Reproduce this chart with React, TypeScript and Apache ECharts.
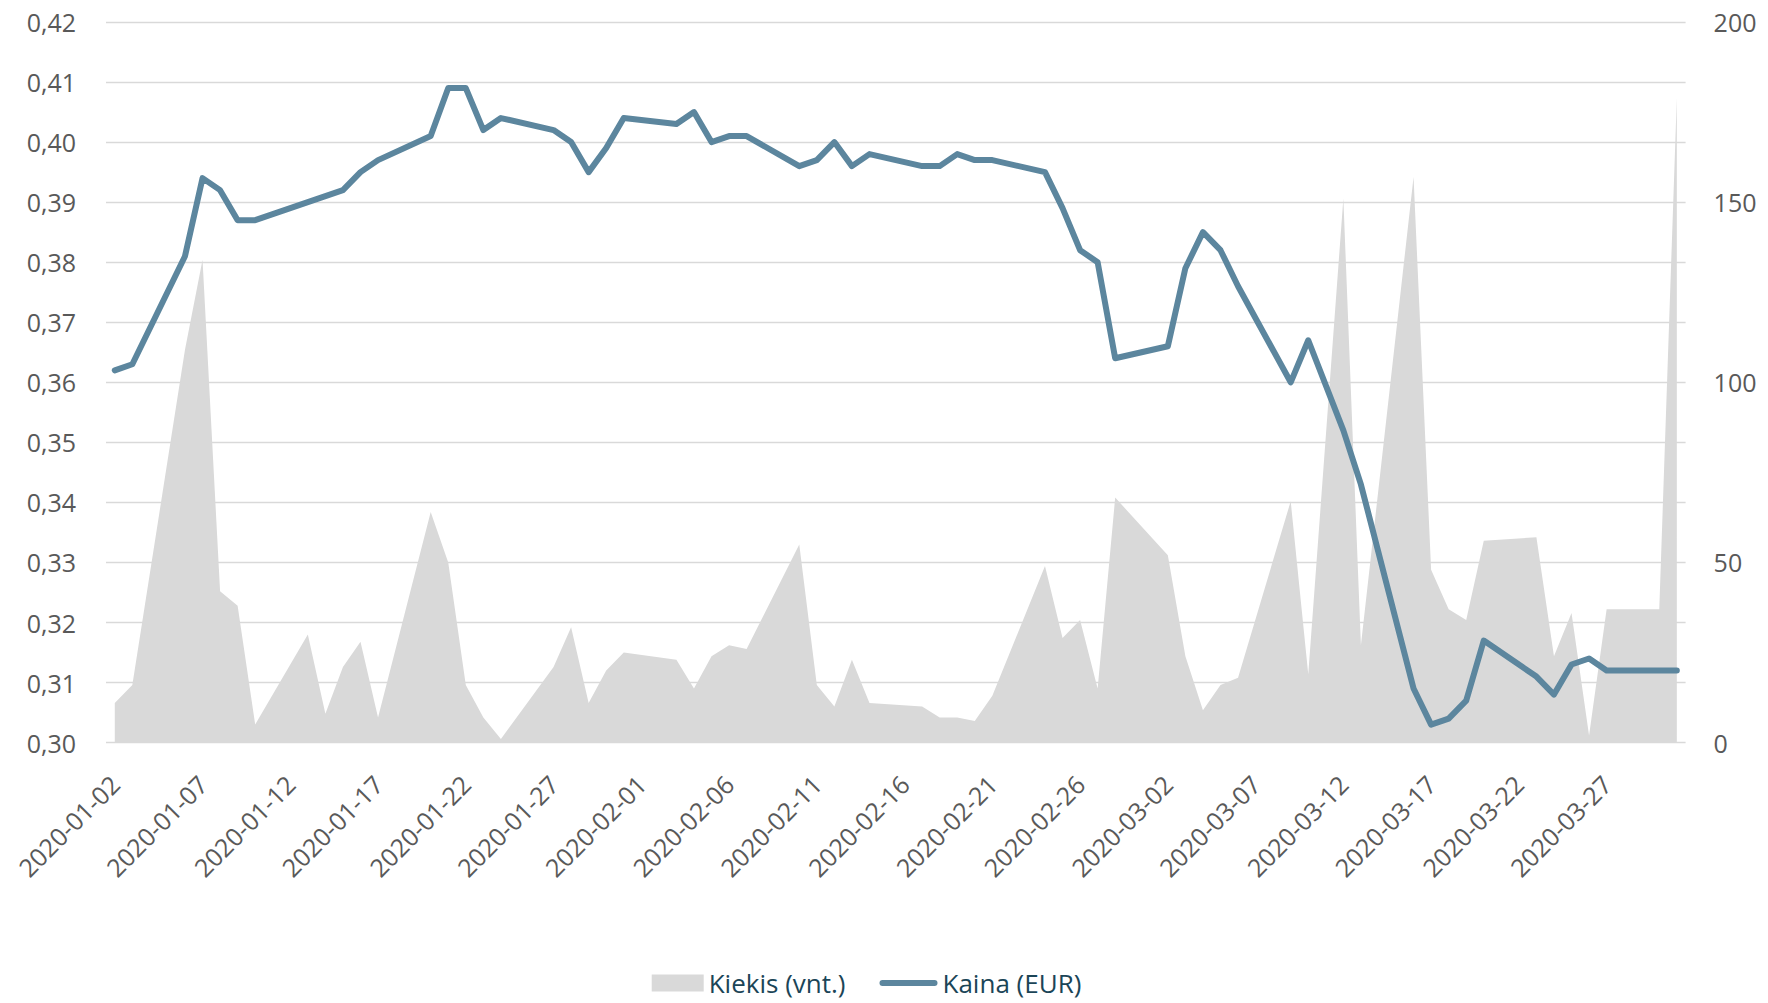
import React, { useEffect, useRef } from 'react';
import * as echarts from 'echarts';

// Trading days shown in the chart
const tradingDates: string[] = [
  '2020-01-02', '2020-01-03', '2020-01-06', '2020-01-07', '2020-01-08', '2020-01-09', '2020-01-10',
  '2020-01-13', '2020-01-14', '2020-01-15', '2020-01-16', '2020-01-17',
  '2020-01-20', '2020-01-21', '2020-01-22', '2020-01-23', '2020-01-24',
  '2020-01-27', '2020-01-28', '2020-01-29', '2020-01-30', '2020-01-31',
  '2020-02-03', '2020-02-04', '2020-02-05', '2020-02-06', '2020-02-07',
  '2020-02-10', '2020-02-11', '2020-02-12', '2020-02-13', '2020-02-14',
  '2020-02-17', '2020-02-18', '2020-02-19', '2020-02-20', '2020-02-21',
  '2020-02-24', '2020-02-25', '2020-02-26', '2020-02-27', '2020-02-28',
  '2020-03-02', '2020-03-03', '2020-03-04', '2020-03-05', '2020-03-06',
  '2020-03-09', '2020-03-10', '2020-03-12', '2020-03-13',
  '2020-03-16', '2020-03-17', '2020-03-18', '2020-03-19', '2020-03-20',
  '2020-03-23', '2020-03-24', '2020-03-25', '2020-03-26', '2020-03-27',
  '2020-03-30', '2020-03-31',
];

// Kaina (EUR)
const priceEUR: number[] = [
  0.362, 0.363, 0.381, 0.394, 0.392, 0.387, 0.387,
  0.390, 0.391, 0.392, 0.395, 0.397,
  0.401, 0.409, 0.409, 0.402, 0.404,
  0.402, 0.400, 0.395, 0.399, 0.404,
  0.403, 0.405, 0.400, 0.401, 0.401,
  0.396, 0.397, 0.400, 0.396, 0.398,
  0.396, 0.396, 0.398, 0.397, 0.397,
  0.395, 0.389, 0.382, 0.380, 0.364,
  0.366, 0.379, 0.385, 0.382, 0.376,
  0.360, 0.367, 0.352, 0.343,
  0.309, 0.303, 0.304, 0.307, 0.317,
  0.311, 0.308, 0.313, 0.314, 0.312,
  0.312, 0.312,
];

// Kiekis (vnt.)
const quantity: number[] = [
  11, 16, 109, 134, 42, 38, 5,
  30, 8, 21, 28, 7,
  64, 50, 16, 7, 1,
  21, 32, 11, 20, 25,
  23, 15, 24, 27, 26,
  55, 16, 10, 23, 11,
  10, 7, 7, 6, 13,
  49, 29, 34, 15, 68,
  52, 24, 9, 16, 18,
  67, 19, 151, 27,
  157, 48, 37, 34, 56,
  57, 24, 36, 2, 37,
  37, 179,
];

const seriesNames = ['Kiekis (vnt.)', 'Kaina (EUR)'];

function buildCalendar(first: string, last: string): string[] {
  const out: string[] = [];
  const d = new Date(first + 'T00:00:00Z');
  const end = new Date(last + 'T00:00:00Z');
  while (d.getTime() <= end.getTime()) {
    out.push(d.toISOString().slice(0, 10));
    d.setUTCDate(d.getUTCDate() + 1);
  }
  return out;
}

export default function App() {
  const ref = useRef<HTMLDivElement>(null);

  useEffect(() => {
    document.body.style.margin = '0';
    if (!ref.current) return;
    const chart = echarts.init(ref.current, undefined, { renderer: 'svg' });

    const calendar = buildCalendar(tradingDates[0], tradingDates[tradingDates.length - 1]);
    const pos = new Map<string, number>();
    tradingDates.forEach((d, i) => pos.set(d, i));
    const priceData = calendar.map((d) => (pos.has(d) ? priceEUR[pos.get(d) as number] : null));
    const qtyData = calendar.map((d) => (pos.has(d) ? quantity[pos.get(d) as number] : null));

    const font = 'Open Sans';
    const labelColor = '#595959';
    const gridColor = '#D9D9D9';
    const lineColor = '#5C869E';
    const legendColor = '#1B4557';

    chart.setOption({
      animation: false,
      backgroundColor: '#ffffff',
      grid: { left: 106, right: 82.4, top: 22, bottom: 260.4, containLabel: false },
      legend: [
        {
          left: 651.7,
          top: 970,
          padding: 0,
          itemWidth: 52,
          itemHeight: 17,
          data: [{ name: seriesNames[0], icon: 'rect', itemStyle: { color: gridColor } }],
          textStyle: { fontFamily: font, fontSize: 26, color: legendColor },
          selectedMode: false,
        },
        {
          left: 879.5,
          top: 970,
          padding: 0,
          itemWidth: 58,
          itemHeight: 6,
          data: [
            {
              name: seriesNames[1],
              icon: 'path://M3,0 H55 A3,3 0 0 1 55,6 H3 A3,3 0 0 1 3,0 Z',
              itemStyle: { color: lineColor },
            },
          ],
          textStyle: { fontFamily: font, fontSize: 26, color: legendColor },
          selectedMode: false,
        },
      ],
      xAxis: {
        type: 'category',
        data: calendar,
        boundaryGap: true,
        axisLine: { show: false },
        axisTick: { show: false },
        axisLabel: {
          interval: 4,
          rotate: 45,
          margin: 37,
          padding: [25, 0, 0, 0],
          fontFamily: font,
          fontSize: 25,
          color: labelColor,
        },
        splitLine: { show: false },
      },
      yAxis: [
        {
          type: 'value',
          min: 0.3,
          max: 0.42,
          interval: 0.01,
          axisLine: { show: false },
          axisTick: { show: false },
          axisLabel: {
            margin: 30,
            fontFamily: font,
            fontSize: 25,
            color: labelColor,
            formatter: (v: number) => v.toFixed(2).replace('.', ','),
          },
          splitLine: { show: true, lineStyle: { color: gridColor, width: 1.3 } },
        },
        {
          type: 'value',
          min: 0,
          max: 200,
          interval: 50,
          position: 'right',
          axisLine: { show: false },
          axisTick: { show: false },
          axisLabel: { margin: 28, fontFamily: font, fontSize: 25, color: labelColor },
          splitLine: { show: false },
        },
      ],
      series: [
        {
          name: seriesNames[0],
          type: 'line',
          yAxisIndex: 1,
          data: qtyData,
          connectNulls: true,
          symbol: 'none',
          showSymbol: false,
          color: gridColor,
          lineStyle: { width: 0, color: gridColor },
          areaStyle: { color: gridColor, opacity: 1 },
          z: 1,
        },
        {
          name: seriesNames[1],
          type: 'line',
          yAxisIndex: 0,
          data: priceData,
          connectNulls: true,
          symbol: 'none',
          showSymbol: false,
          color: lineColor,
          lineStyle: { width: 6, color: lineColor, cap: 'round', join: 'round' },
          z: 3,
        },
      ],
    });

    return () => chart.dispose();
  }, []);

  return <div ref={ref} style={{ width: 1768, height: 1003 }} />;
}
